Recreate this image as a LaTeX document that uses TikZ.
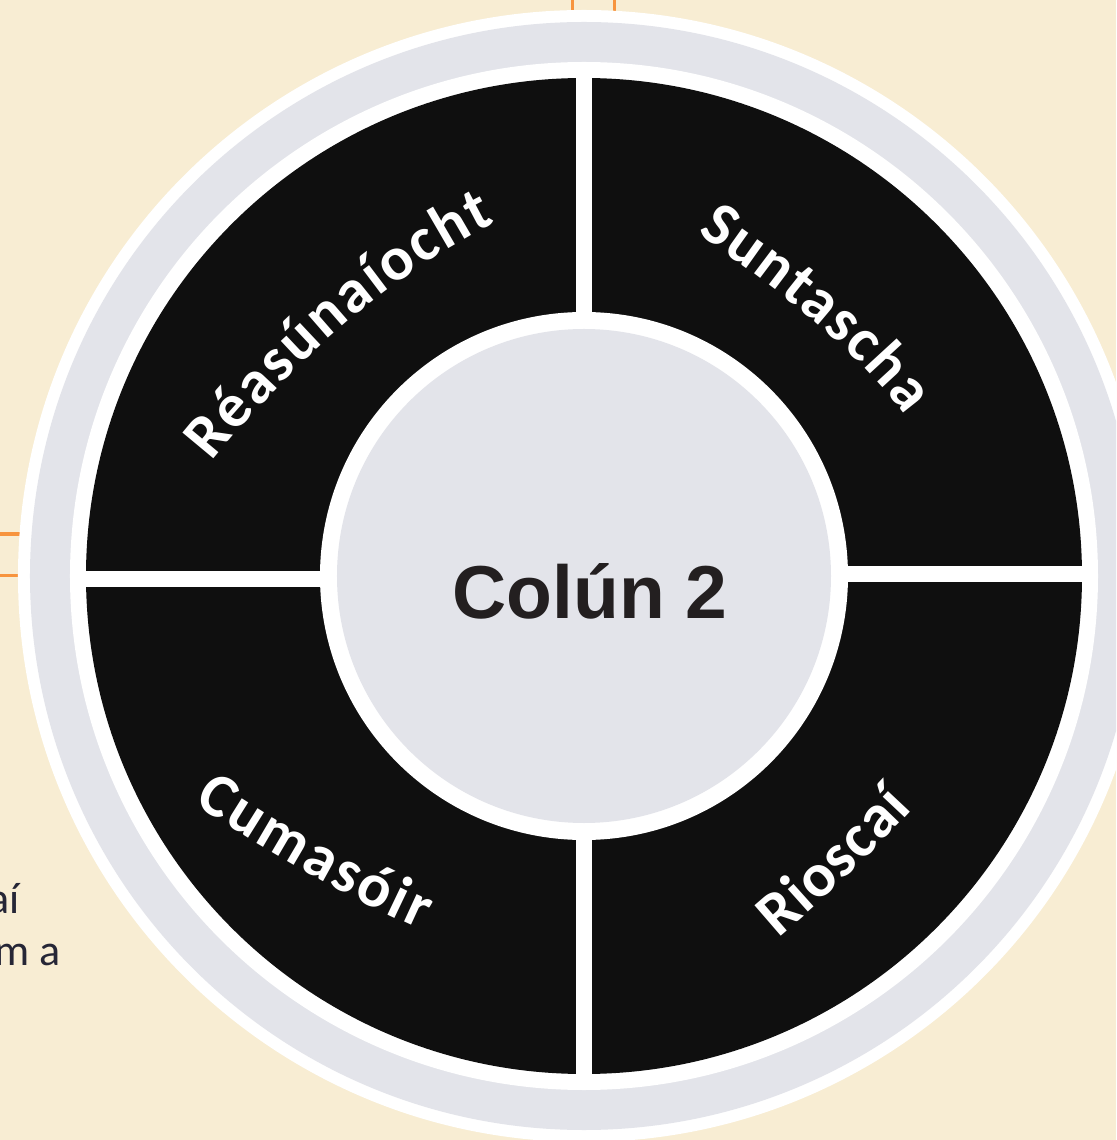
\documentclass[tikz,border=0pt]{standalone}
\usepackage{fontspec}
\setmainfont{Carlito}
\newfontfamily\colfont{Liberation Sans}
\usepackage{tikz}
\usetikzlibrary{decorations.text}
\definecolor{beige}{HTML}{F8EDD3}
\definecolor{ringgray}{HTML}{E3E4EA}
\definecolor{quadblack}{HTML}{0F0F0F}
\definecolor{inkdark}{HTML}{231F20}
\definecolor{rulerorange}{HTML}{F7943E}
\definecolor{bodyink}{HTML}{262636}
\newcommand{\quadfont}{\fontsize{62}{68}\selectfont\bfseries\color{white}}
\tikzset{
  arclabel/.style={decorate, decoration={text along path, text align=fit to path, text={|\quadfont|#1}}},
  colstyle/.style={anchor=base, text=inkdark, font=\colfont\bfseries\fontsize{75}{80}\selectfont},
  bodystyle/.style={anchor=base east, text=bodyink, font=\fontsize{44}{52}\selectfont},
  gap/.style={white, line width=16pt}
}

\begin{document}
\begin{tikzpicture}[x=1pt,y=1pt]
   \fill[beige] (-584,-564) rectangle (532,576);
   \useasboundingbox (-584,-564) rectangle (532,576);
   \clip (-584,-564) rectangle (532,576);

   \draw[rulerorange, line width=3.4pt] (-11.7,576) -- (-11.7,520);
   \draw[rulerorange, line width=3.4pt] (30.3,576) -- (30.3,520);
   \draw[rulerorange, line width=3.4pt] (-584,42) -- (-530,42);
   \draw[rulerorange, line width=3.4pt] (-584,0.3) -- (-530,0.3);

   \draw (-561,-337) node[bodystyle] (bodya) {aí};
   \draw (-520,-389) node[bodystyle] (bodyb) {m a};

   \fill[white] (0,0) circle[radius=566pt];
   \fill[ringgray] (0,0) circle[radius=554pt];
   \fill[white] (0,0) circle[radius=514pt];
   \fill[quadblack] (0,0) circle[radius=498pt];
   \draw[gap] (0,505) -- (0,-505);
   \draw[gap] (-505,-3) -- (0,-3);
   \draw[gap] (0,2) -- (505,2);
   \fill[white] (0,0) circle[radius=264pt];
   \fill[ringgray] (0,0) circle[radius=247pt];

   \path[arclabel=Réasúnaíocht] (-372,114) .. controls (-284.7,222) and (-190.3,301.7) .. (-89,353);
   \path[arclabel=Suntascha] (113,342) .. controls (211,276.7) and (280.3,216) .. (321,160);
   \path[arclabel=Cumasóir] (-390.4,-227) .. controls (-318.4,-275.7) and (-242.6,-318) .. (-163,-354);
   \path[arclabel=Rioscaí] (194,-362) .. controls (241.7,-321.8) and (286.7,-278.5) .. (329,-233);

   \draw (6,-42) node[colstyle] (colun) {Colún 2};
\end{tikzpicture}
\end{document}
